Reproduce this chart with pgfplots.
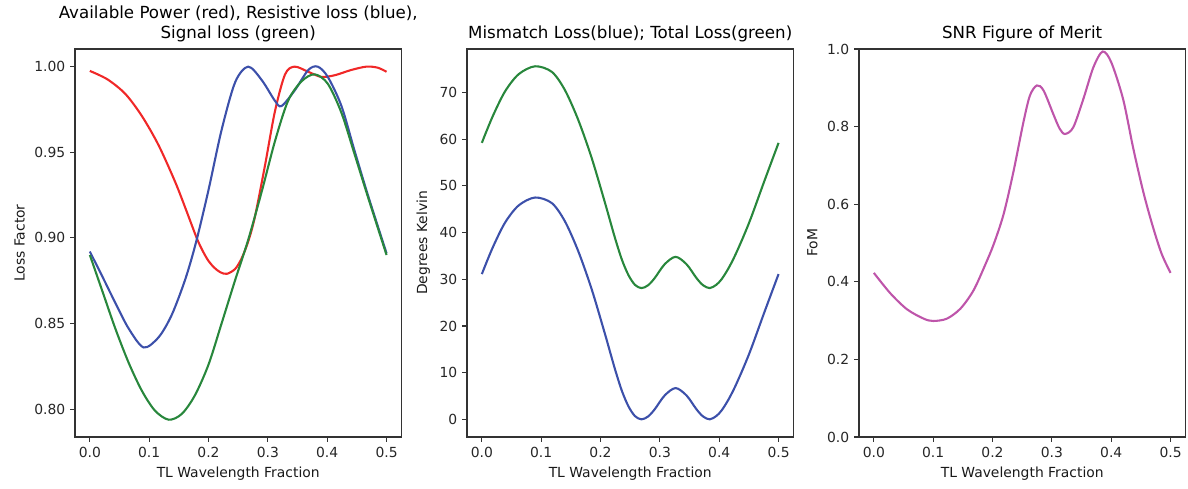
\documentclass[border=0pt]{standalone}
\usepackage{fontspec}
\setmainfont{DejaVu Sans}
\usepackage{pgfplots}
\pgfplotsset{compat=1.18}
\definecolor{mplred}{RGB}{240,40,40}
\definecolor{mplblue}{RGB}{60,80,170}
\definecolor{mplgreen}{RGB}{40,135,60}
\definecolor{mplmag}{RGB}{190,85,170}

\pgfplotsset{
  panel/.style={
    scale only axis, width=235pt, height=279.36pt,
    anchor=south west,
    xmin=-0.025, xmax=0.525,
    xtick={0,0.1,0.2,0.3,0.4,0.5},
    xticklabel style={/pgf/number format/.cd,fixed,fixed zerofill,precision=1},
    /pgf/number format/assume math mode=true,
    tick align=outside, xtick pos=bottom, ytick pos=left,
    major tick length=3.5pt,
    every tick/.style={black!80, line width=0.8pt},
    axis line style={draw=black!80, line width=0.8pt},
    tick label style={font=\fontsize{10}{12}\selectfont, text=black!85},
    label style={font=\fontsize{10}{12}\selectfont, text=black!90},
    title style={font=\fontsize{12}{14.4}\selectfont, align=center, anchor=south, yshift=-4.7pt},
    xlabel={TL Wavelength Fraction},
    every axis plot/.append style={line width=1.5pt, no markers, smooth},
  }
}

\begin{document}
\begin{tikzpicture}
\useasboundingbox (0,0) rectangle (855.36pt,351.36pt);

% left: loss factors
\begin{axis}[panel, at={(54pt,36.72pt)},
  ymin=0.7837, ymax=1.0103,
  ytick={0.8,0.85,0.9,0.95,1.0},
  yticklabel style={/pgf/number format/.cd,fixed,fixed zerofill,precision=2},
  ylabel={Loss Factor},
  title={Available Power (red), Resistive loss (blue),\\Signal loss (green)}]
\addplot[mplred] coordinates {
  (0.000,0.9975)(0.030,0.9925)(0.060,0.9840)(0.088,0.9710)(0.116,0.9540)
  (0.144,0.9325)(0.162,0.9165)(0.180,0.9000)(0.190,0.8925)(0.200,0.8865)
  (0.210,0.8825)(0.220,0.8799)(0.231,0.8790)(0.245,0.8819)(0.256,0.8882)
  (0.267,0.8980)(0.278,0.9120)(0.295,0.9420)(0.312,0.9740)(0.329,0.9955)
  (0.345,1.0000)(0.368,0.9970)(0.390,0.9940)(0.413,0.9950)(0.440,0.9980)
  (0.466,1.0000)(0.485,0.9994)(0.500,0.9970)};
\addplot[mplblue] coordinates {
  (0.000,0.8920)(0.021,0.8775)(0.043,0.8620)(0.0655,0.8470)(0.0907,0.8360)
  (0.116,0.8420)(0.138,0.8550)(0.161,0.8760)(0.179,0.8975)(0.200,0.9280)
  (0.222,0.9630)(0.245,0.9910)(0.267,1.0000)(0.290,0.9920)(0.312,0.9800)
  (0.323,0.9770)(0.345,0.9860)(0.368,0.9980)(0.384,1.0000)(0.401,0.9940)
  (0.424,0.9770)(0.446,0.9510)(0.469,0.9245)(0.500,0.8910)};
\addplot[mplgreen] coordinates {
  (0.000,0.8900)(0.021,0.8690)(0.043,0.8470)(0.0655,0.8270)(0.088,0.8105)
  (0.110,0.7990)(0.133,0.7938)(0.155,0.7972)(0.177,0.8080)(0.200,0.8260)
  (0.222,0.8500)(0.245,0.8755)(0.267,0.8990)(0.290,0.9275)(0.312,0.9565)
  (0.334,0.9800)(0.357,0.9915)(0.379,0.9955)(0.401,0.9900)(0.424,0.9730)
  (0.446,0.9490)(0.469,0.9235)(0.500,0.8900)};
\end{axis}

% middle: noise temperatures
\begin{axis}[panel, at={(336.24pt,36.72pt)},
  ymin=-3.78, ymax=79.3,
  ytick={0,10,20,30,40,50,60,70},
  ylabel={Degrees Kelvin},
  title={Mismatch Loss(blue); Total Loss(green)}]
\addplot[mplgreen] coordinates {
  (0.000,59.2)(0.018,64.8)(0.039,70.2)(0.062,73.9)(0.0897,75.6)
  (0.118,74.4)(0.140,70.5)(0.1625,64.1)(0.185,56.0)(0.207,46.6)
  (0.224,39.0)(0.236,34.2)(0.247,30.9)(0.258,28.8)(0.269,28.1)
  (0.280,28.7)(0.291,30.2)(0.308,33.2)(0.3265,34.8)(0.345,33.2)
  (0.362,30.2)(0.373,28.7)(0.384,28.1)(0.395,28.8)(0.404,30.0)
  (0.415,32.2)(0.426,34.9)(0.440,38.9)(0.454,43.3)(0.476,51.0)(0.500,59.2)};
\addplot[mplblue] coordinates {
  (0.000,31.1)(0.018,36.7)(0.039,42.1)(0.062,45.8)(0.0897,47.5)
  (0.118,46.3)(0.140,42.4)(0.1625,36.0)(0.185,27.9)(0.207,18.5)
  (0.224,10.9)(0.236,6.1)(0.247,2.8)(0.258,0.7)(0.269,0.0)
  (0.280,0.6)(0.291,2.1)(0.308,5.1)(0.3265,6.7)(0.345,5.1)
  (0.362,2.1)(0.373,0.6)(0.384,0.0)(0.395,0.7)(0.404,1.9)
  (0.415,4.1)(0.426,6.8)(0.440,10.8)(0.454,15.2)(0.476,22.9)(0.500,31.1)};
\end{axis}

% right: figure of merit
\begin{axis}[panel, at={(618.48pt,36.72pt)},
  ymin=0, ymax=1,
  ytick={0,0.2,0.4,0.6,0.8,1.0},
  yticklabel style={/pgf/number format/.cd,fixed,fixed zerofill,precision=1},
  ylabel={FoM},
  title={SNR Figure of Merit}]
\addplot[mplmag] coordinates {
  (0.000,0.423)(0.028,0.370)(0.056,0.329)(0.084,0.305)(0.100,0.299)
  (0.123,0.305)(0.146,0.331)(0.168,0.378)(0.188,0.445)(0.202,0.497)
  (0.2186,0.574)(0.235,0.682)(0.252,0.811)(0.263,0.880)(0.2747,0.906)
  (0.286,0.893)(0.303,0.830)(0.313,0.795)(0.322,0.781)(0.336,0.798)
  (0.353,0.871)(0.370,0.953)(0.3856,0.9935)(0.400,0.966)(0.420,0.871)
  (0.437,0.745)(0.454,0.632)(0.470,0.543)(0.485,0.472)(0.500,0.423)};
\end{axis}
\end{tikzpicture}
\end{document}
